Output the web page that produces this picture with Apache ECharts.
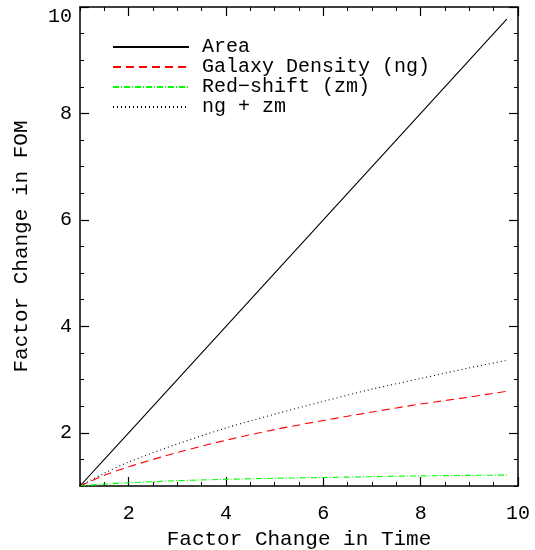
<!DOCTYPE html>
<html><head><meta charset="utf-8">
<script src="https://cdn.jsdelivr.net/npm/echarts@6/dist/echarts.min.js"></script>
<style>html,body{margin:0;padding:0;background:#fff}#c{width:535px;height:550px}</style>
</head><body><div id="c"></div>
<script>
const timeFactor = [1, 1.5, 2, 3, 4, 5, 6, 7, 8, 9, 9.77];
const areaVals   = [1, 1.5, 2, 3, 4, 5, 6, 7, 8, 9, 9.77];
const ngVals     = [1, 1.20, 1.36, 1.63, 1.86, 2.06, 2.23, 2.39, 2.54, 2.67, 2.78];
const zmVals     = [1, 1.035, 1.06, 1.10, 1.125, 1.145, 1.16, 1.175, 1.19, 1.20, 1.205];
const ngzmVals   = [1, 1.24, 1.45, 1.79, 2.09, 2.35, 2.59, 2.82, 3.02, 3.22, 3.36];
const majorTicks = [2, 4, 6, 8, 10];
const seriesNames = ['Area', 'Galaxy Density (ng)', 'Red\u2212shift (zm)', 'ng + zm'];

const FONT = 'Liberation Mono';
const pairs = v => timeFactor.map((x, i) => [x, v[i]]);

function axes(kind) {
  const isX = kind === 'x';
  const pos = isX ? ['bottom', 'top'] : ['left', 'right'];
  const base = { type: 'value', min: 1, max: 10, splitLine: { show: false } };
  const line = { show: true, lineStyle: { color: '#000', width: 1.5 } };
  const list = [];
  pos.forEach((p, k) => {
    const label = { show: true, customValues: majorTicks, fontFamily: FONT, fontSize: 20, color: '#000', margin: isX ? 18 : 8 };
    if (!isX) label.verticalAlignMaxLabel = 'top';
    list.push(Object.assign({}, base, {
      position: p,
      axisLine: line,
      axisTick: { show: true, inside: true, length: 9, customValues: majorTicks, lineStyle: { color: '#000', width: 1.2 } },
      axisLabel: k === 0 ? label : { show: false },
      name: k === 0 ? (isX ? 'Factor Change in Time' : 'Factor Change in FOM') : '',
      nameLocation: 'middle',
      nameGap: isX ? 43 : 48,
      nameTextStyle: { fontFamily: FONT, fontSize: 21, color: '#000' }
    }));
    list.push(Object.assign({}, base, {
      position: p,
      interval: 0.5,
      axisLine: { show: false },
      axisTick: { show: true, inside: true, length: 4, lineStyle: { color: '#000', width: 1 } },
      axisLabel: { show: false }
    }));
  });
  return list;
}

const colors = ['#000000', '#ff0000', '#00ff00', '#000000'];
const dashes = ['solid', [8, 5], [6, 2, 1, 2], [1, 3]];
const dataSets = [areaVals, ngVals, zmVals, ngzmVals];

const chart = echarts.init(document.getElementById('c'), null, { renderer: 'canvas' });
chart.setOption({
  animation: false,
  backgroundColor: '#fff',
  grid: { left: 80, right: 17, top: 7, bottom: 64, containLabel: false, outerBoundsMode: 'none' },
  xAxis: axes('x'),
  yAxis: axes('y'),
  legend: {
    orient: 'vertical', left: 107, top: 32,
    itemWidth: 76, itemHeight: 21.3, itemGap: 0,
    itemStyle: { color: 'rgba(0,0,0,0)', borderWidth: 0, opacity: 0 },
    textStyle: { fontFamily: FONT, fontSize: 20, color: '#000', padding: [0, 0, 0, 8] },
    data: seriesNames
  },
  series: seriesNames.map((n, i) => ({
    name: n, type: 'line', xAxisIndex: 0, yAxisIndex: 0,
    data: pairs(dataSets[i]),
    smooth: i === 0 ? false : 0.3,
    symbol: 'none', showSymbol: false,
    itemStyle: { color: colors[i] },
    lineStyle: { color: colors[i], width: 1.1, type: dashes[i] }
  }))
});
</script></body></html>
